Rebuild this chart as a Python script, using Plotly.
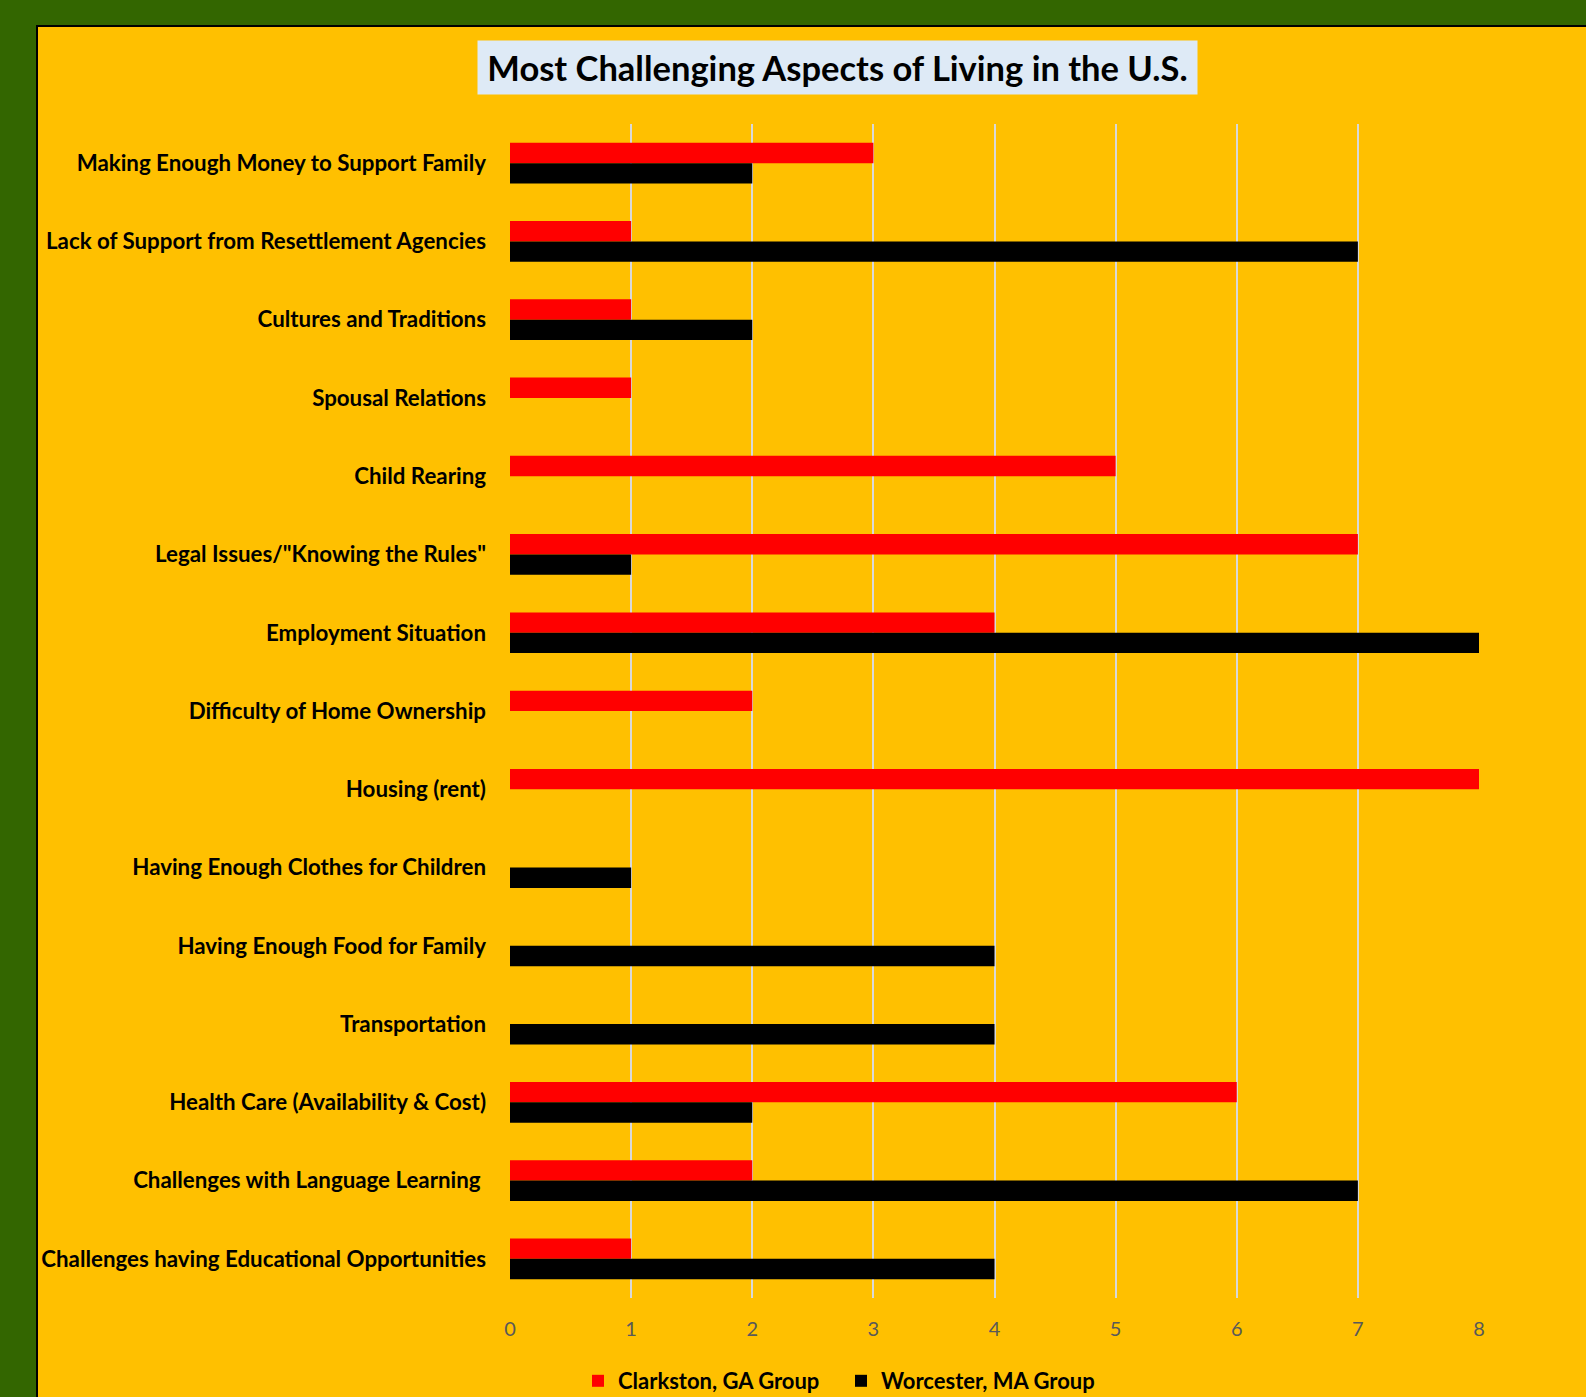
import plotly.graph_objects as go

categories = [
    "Making Enough Money to Support Family",
    "Lack of Support from Resettlement Agencies",
    "Cultures and Traditions",
    "Spousal Relations",
    "Child Rearing",
    "Legal Issues/\"Knowing the Rules\"",
    "Employment Situation",
    "Difficulty of Home Ownership",
    "Housing (rent)",
    "Having Enough Clothes for Children",
    "Having Enough Food for Family",
    "Transportation",
    "Health Care (Availability & Cost)",
    "Challenges with Language Learning ",
    "Challenges having Educational Opportunities",
]
clarkston = [3, 1, 1, 1, 5, 7, 4, 2, 8, 0, 0, 0, 6, 2, 1]
worcester = [2, 7, 2, 0, 0, 1, 8, 0, 0, 1, 4, 4, 2, 7, 4]
x_ticks = [0, 1, 2, 3, 4, 5, 6, 7, 8]

W, H = 1586, 1397
L, R, T, B = 510, 1479, 124, 1298
FONT = "Lato"


def px(x):
    return (x - L) / (R - L)


def py(y):
    return (B - y) / (B - T)


fig = go.Figure()
fig.add_trace(go.Bar(y=categories, x=clarkston, name="Clarkston, GA Group",
                     orientation="h", marker=dict(color="#FF0000", line=dict(width=0))))
fig.add_trace(go.Bar(y=categories, x=worcester, name="Worcester, MA Group",
                     orientation="h", marker=dict(color="#000000", line=dict(width=0))))

fig.update_layout(
    width=W, height=H,
    margin=dict(l=L, r=W - R, t=T, b=H - B, pad=0, autoexpand=False),
    paper_bgcolor="#336600",
    plot_bgcolor="rgba(0,0,0,0)",
    barmode="group",
    bargap=0.48,
    bargroupgap=0,
    font=dict(family=FONT, color="#000000"),
    showlegend=True,
    legend=dict(orientation="h", x=px(578), xanchor="left", y=py(1381), yanchor="middle",
                font=dict(family=FONT, size=22, color="#000000", weight="bold"),
                bgcolor="rgba(0,0,0,0)", entrywidth=218, entrywidthmode="pixels",
                traceorder="normal"),
    shapes=[dict(type="rect", xref="paper", yref="paper", layer="below",
                 x0=px(37), x1=px(W + 20), y0=py(H + 20), y1=py(26),
                 fillcolor="#FFC000", line=dict(color="#000000", width=2))],
    annotations=[dict(text="<b>Most Challenging Aspects of Living in the U.S.</b>",
                      xref="paper", yref="paper", x=px(837.5), y=py(68),
                      xanchor="center", yanchor="middle", showarrow=False,
                      width=719, height=53, bgcolor="#DEEAF6", borderpad=0,
                      font=dict(family=FONT, size=34.5, color="#000000"))],
)

fig.update_xaxes(range=[0, 8], tickvals=x_ticks, showgrid=True, gridcolor="#D9D9D9",
                 gridwidth=2, zeroline=False, showline=False, ticks="",
                 tickfont=dict(family=FONT, size=20, color="#595959"),
                 ticklabelstandoff=17, fixedrange=True)
fig.update_yaxes(categoryorder="array", categoryarray=categories, autorange="reversed",
                 showgrid=False, zeroline=False, showline=False, ticks="",
                 tickfont=dict(family=FONT, size=22.3, color="#000000", weight="bold"),
                 ticklabelstandoff=23, fixedrange=True)

fig.write_html("out.html", config={"displayModeBar": False},
               post_script="document.body.style.margin='0';document.body.style.overflow='hidden';")
